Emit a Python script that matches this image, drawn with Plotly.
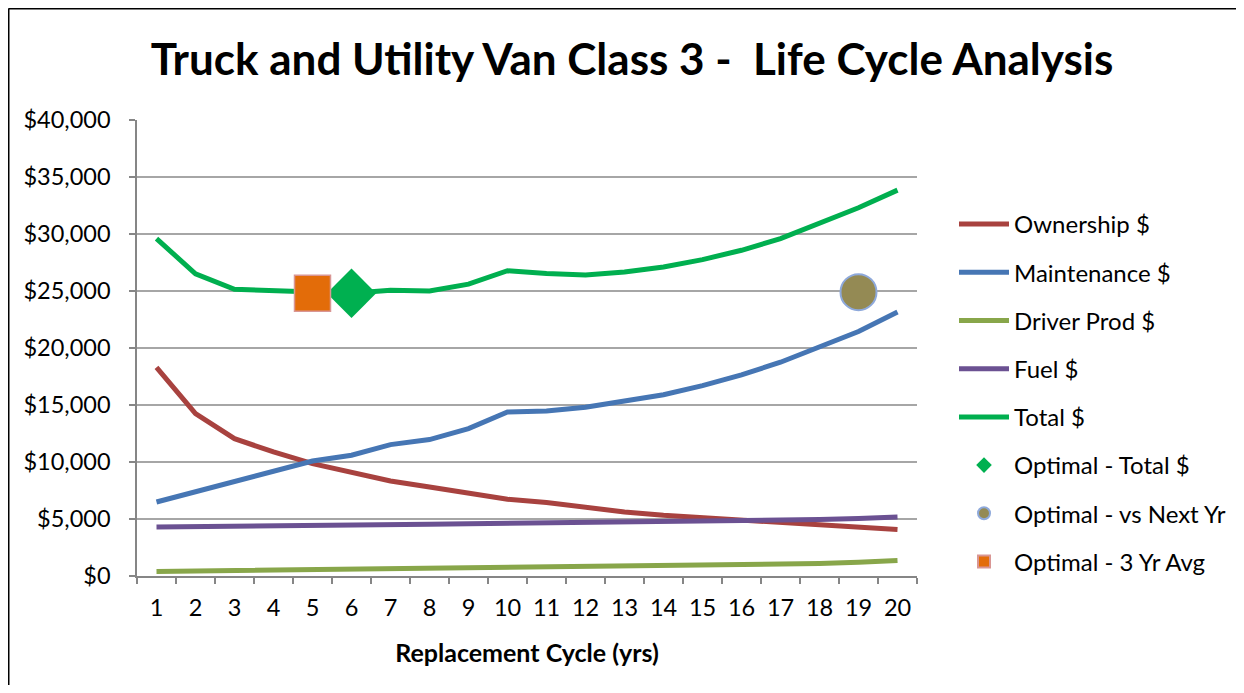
import plotly.graph_objects as go

years = [str(i) for i in range(1, 21)]

ownership = [18300, 14250, 12050, 10880, 9860, 9125, 8335, 7810, 7225, 6730,
             6450, 6000, 5620, 5330, 5120, 4950, 4690, 4480, 4300, 4070]
maintenance = [6490, 7370, 8245, 9210, 10090, 10590, 11525, 11965, 12930, 14390,
               14480, 14800, 15300, 15900, 16700, 17650, 18750, 20050, 21450, 23150]
driver_prod = [400, 440, 480, 520, 560, 600, 640, 670, 710, 800,
               820, 830, 860, 880, 920, 960, 1010, 1100, 1200, 1350]
fuel = [4300, 4320, 4350, 4390, 4430, 4460, 4500, 4540, 4580, 4620,
        4650, 4670, 4700, 4730, 4770, 4820, 4890, 4960, 5050, 5180]
total = [29600, 26500, 25150, 25000, 24950, 24800, 25060, 25000, 25600, 26780,
         26530, 26400, 26670, 27100, 27750, 28570, 29600, 30900, 32300, 33850]

opt_total_x, opt_total_y = ["6"], [24800]
opt_next_x, opt_next_y = ["19"], [24900]
opt_avg_x, opt_avg_y = ["5"], [24800]

FONT = "Lato"

fig = go.Figure()

lines = [
    ("Ownership $", ownership, "#A8423F"),
    ("Maintenance $", maintenance, "#4676B4"),
    ("Driver Prod $", driver_prod, "#88A64A"),
    ("Fuel $", fuel, "#6B5192"),
    ("Total $", total, "#00AF4F"),
]
for i, (name, vals, col) in enumerate(lines):
    fig.add_trace(go.Scatter(x=years, y=vals, mode="lines", name=name,
                             line=dict(color=col, width=5),
                             legendgroup=f"g{i}"))

fig.add_trace(go.Scatter(x=opt_total_x, y=opt_total_y, mode="markers",
                         name="Optimal - Total $", legendgroup="g5",
                         marker=dict(symbol="diamond", size=38, color="#00B050",
                                     line=dict(color="#00B050", width=0))))
fig.add_trace(go.Scatter(x=opt_next_x, y=opt_next_y, mode="markers",
                         name="Optimal - vs Next Yr", legendgroup="g6",
                         marker=dict(symbol="circle", size=36, color="#948A54",
                                     line=dict(color="#8EA9DB", width=2))))
fig.add_trace(go.Scatter(x=opt_avg_x, y=opt_avg_y, mode="markers",
                         name="Optimal - 3 Yr Avg", legendgroup="g7",
                         marker=dict(symbol="square", size=36, color="#E36C09",
                                     line=dict(color="#D99694", width=1.5))))

# page body has an 8px margin: pixel positions are converted to figure coordinates
OFF = 8
W, H = 1244 - OFF, 693 - 2 * OFF
L, R, T, B = 137 - OFF, 917 - OFF, 120 - OFF, 576 - OFF

def px_x(px):
    return (px - OFF - L) / (R - L)

def px_y(py):
    return (B - (py - OFF)) / (B - T)

fig.update_layout(
    width=W, height=H,
    margin=dict(l=L, r=W - R, t=T, b=H - B),
    paper_bgcolor="white", plot_bgcolor="white",
    font=dict(family=FONT, size=24, color="black"),
    title=dict(text="<b>Truck and Utility Van Class 3 -  Life Cycle Analysis</b>",
               x=(632 - OFF) / W, xanchor="center", y=1 - (60 - OFF) / H, yanchor="middle",
               font=dict(family=FONT, size=44, color="black")),
    showlegend=True,
    legend=dict(x=px_x(954), xanchor="left", y=px_y(202), yanchor="top",
                font=dict(family=FONT, size=24, color="black"),
                tracegroupgap=14, itemsizing="constant", itemwidth=50,
                bgcolor="rgba(0,0,0,0)"),
    xaxis=dict(type="category", range=[-0.5, 19.5],
               showgrid=False, showline=True, linecolor="#868686", linewidth=1.5,
               ticks="outside", tickson="boundaries", ticklen=6, tickcolor="#868686",
               tickwidth=1.5, ticklabelstandoff=10,
               tickfont=dict(family=FONT, size=23.5, color="black"),
               title=dict(text="<b>Replacement Cycle (yrs)</b>", standoff=25,
                          font=dict(family=FONT, size=25, color="black"))),
    yaxis=dict(range=[0, 40000], dtick=5000, tickprefix="$", tickformat=",d",
               showgrid=True, gridcolor="#A6A6A6", gridwidth=1.5,
               showline=True, linecolor="#868686", linewidth=1.5,
               ticks="outside", ticklen=6, tickcolor="#868686", tickwidth=1.5,
               ticklabelstandoff=14, zeroline=False,
               tickfont=dict(family=FONT, size=23.5, color="black")),
    shapes=[
        dict(type="line", xref="paper", yref="paper",
             x0=px_x(8.5), x1=px_x(1250), y0=px_y(8.5), y1=px_y(8.5),
             line=dict(color="black", width=2)),
        dict(type="line", xref="paper", yref="paper",
             x0=px_x(8.5), x1=px_x(8.5), y0=px_y(8.5), y1=px_y(700),
             line=dict(color="black", width=2)),
    ],
)

fig.write_html("out.html")
